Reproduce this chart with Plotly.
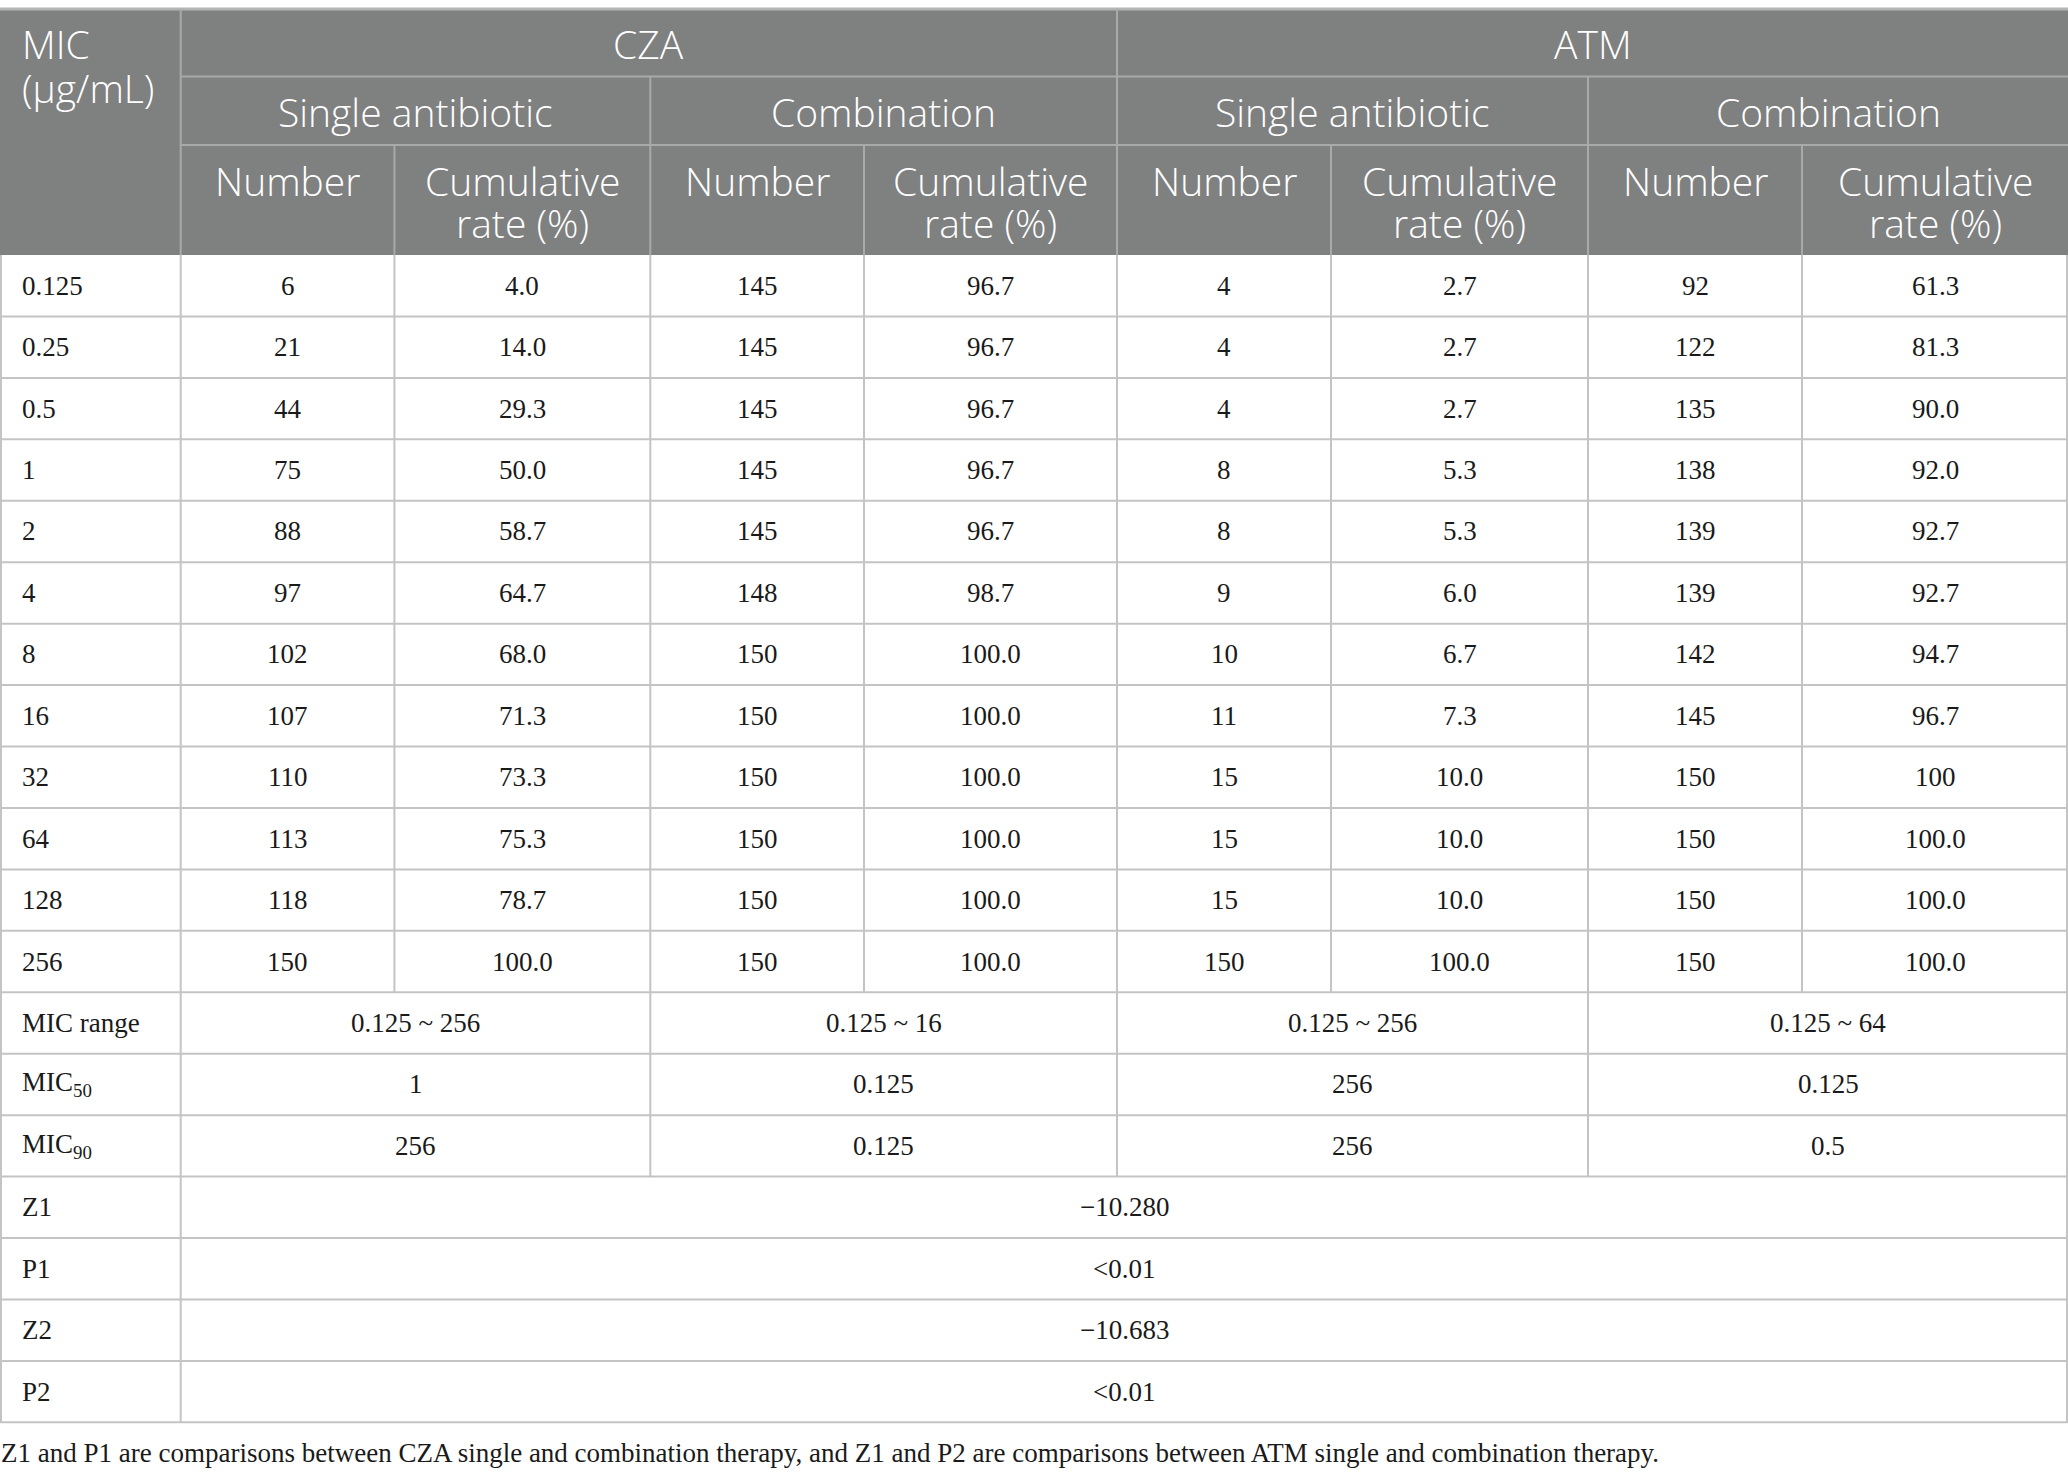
import plotly.graph_objects as go

# ---- data ----
mic_levels = ["0.125", "0.25", "0.5", "1", "2", "4", "8", "16", "32", "64", "128", "256"]
cza_single_n = ["6", "21", "44", "75", "88", "97", "102", "107", "110", "113", "118", "150"]
cza_single_rate = ["4.0", "14.0", "29.3", "50.0", "58.7", "64.7", "68.0", "71.3", "73.3", "75.3", "78.7", "100.0"]
cza_combo_n = ["145", "145", "145", "145", "145", "148", "150", "150", "150", "150", "150", "150"]
cza_combo_rate = ["96.7", "96.7", "96.7", "96.7", "96.7", "98.7", "100.0", "100.0", "100.0", "100.0", "100.0", "100.0"]
atm_single_n = ["4", "4", "4", "8", "8", "9", "10", "11", "15", "15", "15", "150"]
atm_single_rate = ["2.7", "2.7", "2.7", "5.3", "5.3", "6.0", "6.7", "7.3", "10.0", "10.0", "10.0", "100.0"]
atm_combo_n = ["92", "122", "135", "138", "139", "139", "142", "145", "150", "150", "150", "150"]
atm_combo_rate = ["61.3", "81.3", "90.0", "92.0", "92.7", "92.7", "94.7", "96.7", "100", "100.0", "100.0", "100.0"]

summary_labels = ["MIC range", "MIC<sub>50</sub>", "MIC<sub>90</sub>"]
summary_cza_single = ["0.125 ~ 256", "1", "256"]
summary_cza_combo = ["0.125 ~ 16", "0.125", "0.125"]
summary_atm_single = ["0.125 ~ 256", "256", "256"]
summary_atm_combo = ["0.125 ~ 64", "0.125", "0.5"]

stat_labels = ["Z1", "P1", "Z2", "P2"]
stat_values = ["\u221210.280", "&lt;0.01", "\u221210.683", "&lt;0.01"]

drugs = ["CZA", "ATM"]
regimens = ["Single antibiotic", "Combination"]
measures = [["Number"], ["Cumulative", "rate (%)"]]

footnote = ("Z1 and P1 are comparisons between CZA single and combination therapy, "
            "and Z1 and P2 are comparisons between ATM single and combination therapy.")

# ---- layout geometry (pixels) ----
W, H = 2068, 1479
col_x = [0, 180.7, 394.4, 650.3, 864, 1117, 1331, 1588, 1802, 2068]
head_top, head_r1, head_r2, head_bot = 9, 76.5, 145, 255
row_h = 61.44
n_rows = len(mic_levels) + len(summary_labels) + len(stat_labels)
table_bot = head_bot + n_rows * row_h

head_fill = "#7f8080"
head_line = "#a9a9a9"
body_line = "#c4c4c4"
sans = "Open Sans"
serif = "Liberation Serif"
head_size = 39
body_size = 27

shapes = []
annotations = []


def line(x0, y0, x1, y1, color, w=2):
    shapes.append(dict(type="line", xref="x", yref="y", x0=x0, y0=y0, x1=x1, y1=y1,
                       line=dict(color=color, width=w)))


def text(x, y, s, family, size, color="#1a1a1a", anchor="center", weight=None):
    f = dict(family=family, size=size, color=color)
    if weight:
        f["weight"] = weight
    annotations.append(dict(x=x, y=y, xref="x", yref="y", text=s, showarrow=False,
                            xanchor=anchor, yanchor="middle", borderpad=0, font=f))


# header block
shapes.append(dict(type="rect", xref="x", yref="y", x0=0, x1=W, y0=head_top, y1=head_bot,
                   fillcolor=head_fill, line=dict(width=0), layer="below"))
line(0, head_top, W, head_top, "#b4b4b4", 3)
line(col_x[1], head_r1, W, head_r1, head_line)
line(col_x[1], head_r2, W, head_r2, head_line)
line(col_x[1], head_top, col_x[1], head_bot, head_line)
line(col_x[5], head_top, col_x[5], head_bot, head_line)
for i in (3, 7):
    line(col_x[i], head_r1, col_x[i], head_bot, head_line)
for i in (2, 4, 6, 8):
    line(col_x[i], head_r2, col_x[i], head_bot, head_line)

white = "#ffffff"
hw = 350
text(21, 43.5, "MIC", sans, head_size, white, "left", hw)
text(21, 87, "(\u00b5g/mL)", sans, head_size, white, "left", hw)
for d, drug in enumerate(drugs):
    text((col_x[1 + 4 * d] + col_x[5 + 4 * d]) / 2, 43.5, drug, sans, head_size, white, weight=hw)
    for r, reg in enumerate(regimens):
        c = 1 + 4 * d + 2 * r
        text((col_x[c] + col_x[c + 2]) / 2, 111, reg, sans, head_size, white, weight=hw)
        for m, parts in enumerate(measures):
            cx = (col_x[c + m] + col_x[c + m + 1]) / 2
            for k, p in enumerate(parts):
                text(cx, 180 + 42 * k, p, sans, head_size, white, weight=hw)


# body rows
def row_mid(i):
    return head_bot + (i + 0.5) * row_h


body_cols = [cza_single_n, cza_single_rate, cza_combo_n, cza_combo_rate,
             atm_single_n, atm_single_rate, atm_combo_n, atm_combo_rate]
for i, lvl in enumerate(mic_levels):
    y = row_mid(i)
    text(21, y, lvl, serif, body_size, anchor="left")
    for c, col in enumerate(body_cols):
        text((col_x[c + 1] + col_x[c + 2]) / 2, y, col[i], serif, body_size)

summary_cols = [summary_cza_single, summary_cza_combo, summary_atm_single, summary_atm_combo]
base = len(mic_levels)
for j, lab in enumerate(summary_labels):
    y = row_mid(base + j)
    text(21, y, lab, serif, body_size, anchor="left")
    for c, col in enumerate(summary_cols):
        text((col_x[1 + 2 * c] + col_x[3 + 2 * c]) / 2, y, col[j], serif, body_size)

base2 = base + len(summary_labels)
for j, lab in enumerate(stat_labels):
    y = row_mid(base2 + j)
    text(21, y, lab, serif, body_size, anchor="left")
    text((col_x[1] + W) / 2, y, stat_values[j], serif, body_size)

# body grid
for k in range(1, n_rows + 1):
    line(0, head_bot + k * row_h, W, head_bot + k * row_h, body_line)
line(1, head_bot, 1, table_bot, body_line)
line(W - 1, head_bot, W - 1, table_bot, body_line)
line(col_x[1], head_bot, col_x[1], table_bot, body_line)
y_num_end = head_bot + len(mic_levels) * row_h
y_sum_end = head_bot + base2 * row_h
for i in (2, 4, 6, 8):
    line(col_x[i], head_bot, col_x[i], y_num_end, body_line)
for i in (3, 5, 7):
    line(col_x[i], head_bot, col_x[i], y_sum_end, body_line)

text(0, 1453, footnote, serif, body_size, anchor="left")

fig = go.Figure()
fig.update_layout(
    width=W, height=H,
    margin=dict(l=0, r=0, t=0, b=0),
    paper_bgcolor="white", plot_bgcolor="white",
    xaxis=dict(range=[0, W], visible=False, fixedrange=True),
    yaxis=dict(range=[H, 0], visible=False, fixedrange=True),
    shapes=shapes, annotations=annotations, showlegend=False,
)
fig.write_html("out.html", config={"displayModeBar": False},
               post_script="document.body.style.margin='0';")
